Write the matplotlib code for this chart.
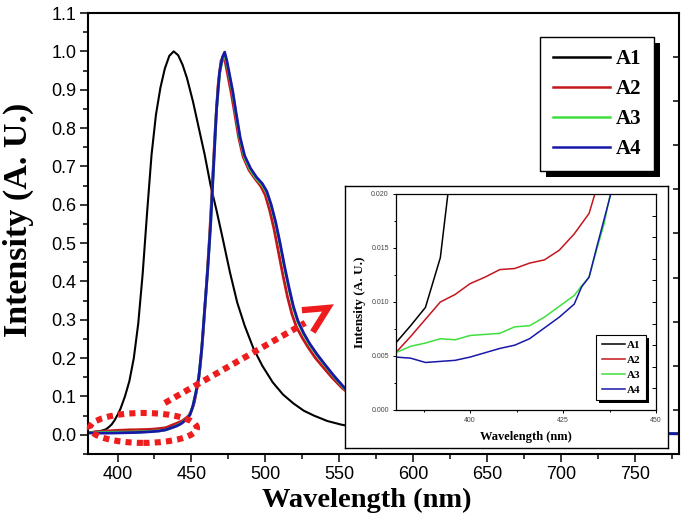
import matplotlib
matplotlib.use('Agg')
import matplotlib.pyplot as plt
from matplotlib.patches import Ellipse, Rectangle
from matplotlib.ticker import MultipleLocator, FormatStrFormatter

plt.rcParams['font.family'] = ['Liberation Sans', 'DejaVu Sans']

labels = ['A1', 'A2', 'A3', 'A4']
colors = ['#000000', '#c4161c', '#3ee03e', '#1818a8']

wl_a1 = [380, 384, 388, 392, 394, 396, 398, 400, 402, 405,
         408, 411, 414, 417, 420, 423, 426, 429, 432, 435,
         438, 441, 444, 447, 451, 455, 459, 463, 467, 471,
         476, 481, 486, 492, 498, 505, 512, 519, 526, 533,
         542, 551, 560, 575, 600, 630, 670, 720, 780]
int_a1 = [0.0062, 0.0078, 0.0095, 0.0141, 0.0199, 0.027, 0.038, 0.052, 0.068, 0.100,
          0.140, 0.200, 0.290, 0.420, 0.580, 0.730, 0.835, 0.905, 0.955, 0.988,
          1.000, 0.990, 0.965, 0.930, 0.870, 0.800, 0.730, 0.650, 0.585, 0.515,
          0.425, 0.345, 0.285, 0.225, 0.180, 0.137, 0.105, 0.082, 0.063, 0.050,
          0.036, 0.027, 0.020, 0.013, 0.008, 0.005, 0.003, 0.002, 0.002]

wl_a2 = [380, 384, 388, 392, 396, 400, 404, 408, 412, 416,
         420, 424, 428, 432, 434, 436, 440, 444, 448, 450,
         452, 454, 456, 458, 460, 462, 464, 466, 468, 470,
         471.5, 473, 475, 477, 479, 482, 485, 489, 493, 497,
         500, 503, 506, 509, 512, 515, 518, 521, 525, 529,
         534, 539, 545, 552, 560, 570, 585, 600, 620, 650,
         690, 730, 780]
int_a2 = [0.0053, 0.0068, 0.0084, 0.0100, 0.0107, 0.0117, 0.0123, 0.0130, 0.0131, 0.0136,
          0.0139, 0.0148, 0.0163, 0.0182, 0.0205, 0.0240, 0.0300, 0.037, 0.049, 0.062,
          0.085, 0.125, 0.18, 0.27, 0.38, 0.50, 0.64, 0.79, 0.91, 0.975,
          0.985, 0.97, 0.93, 0.89, 0.845, 0.775, 0.725, 0.69, 0.668, 0.648,
          0.625, 0.585, 0.535, 0.475, 0.415, 0.36, 0.315, 0.282, 0.253, 0.228,
          0.2, 0.177, 0.15, 0.122, 0.098, 0.074, 0.049, 0.033, 0.021, 0.012,
          0.007, 0.004, 0.003]

wl_a3 = [380, 384, 388, 392, 396, 400, 404, 408, 412, 416,
         420, 424, 428, 430, 432, 434, 436, 438, 440, 443,
         446, 449, 451, 453, 455, 457, 459, 461, 463, 465,
         467, 469, 471, 472.5, 474, 476, 478, 480, 483, 486,
         490, 494, 498, 501, 504, 507, 510, 513, 516, 519,
         522, 526, 530, 535, 540, 546, 553, 560, 570, 585,
         600, 620, 650, 690, 730, 780]
int_a3 = [0.0053, 0.0059, 0.0062, 0.0066, 0.0065, 0.0069, 0.0070, 0.0071, 0.0077, 0.0078,
          0.0086, 0.0096, 0.0106, 0.0115, 0.0123, 0.0148, 0.0172, 0.0205, 0.024, 0.030,
          0.039, 0.053, 0.076, 0.11, 0.15, 0.225, 0.33, 0.43, 0.55, 0.70,
          0.85, 0.94, 0.98, 0.99, 0.97, 0.93, 0.89, 0.84, 0.77, 0.723,
          0.69, 0.668, 0.651, 0.631, 0.596, 0.551, 0.496, 0.436, 0.381, 0.331,
          0.295, 0.262, 0.235, 0.208, 0.183, 0.154, 0.123, 0.099, 0.074, 0.049,
          0.033, 0.021, 0.013, 0.008, 0.005, 0.003]

wl_a4 = [380, 384, 388, 392, 396, 400, 404, 408, 412, 416,
         420, 424, 428, 430, 432, 434, 436, 438, 440, 443,
         446, 449, 451, 453, 455, 457, 459, 461, 463, 465,
         467, 469, 471, 472.5, 474, 476, 478, 480, 483, 486,
         490, 494, 498, 501, 504, 507, 510, 513, 516, 519,
         522, 526, 530, 535, 540, 546, 553, 560, 570, 585,
         600, 620, 650, 690, 730, 780]
int_a4 = [0.0049, 0.0048, 0.0044, 0.0045, 0.0046, 0.0049, 0.0053, 0.0057, 0.0060, 0.0066,
          0.0076, 0.0086, 0.0098, 0.0114, 0.0123, 0.0150, 0.0176, 0.0202, 0.023, 0.029,
          0.038, 0.052, 0.075, 0.11, 0.15, 0.225, 0.33, 0.43, 0.55, 0.70,
          0.85, 0.945, 0.985, 0.998, 0.975, 0.935, 0.895, 0.845, 0.775, 0.728,
          0.695, 0.672, 0.655, 0.635, 0.60, 0.555, 0.50, 0.44, 0.385, 0.335,
          0.298, 0.265, 0.238, 0.21, 0.185, 0.156, 0.125, 0.10, 0.075, 0.05,
          0.034, 0.022, 0.013, 0.008, 0.005, 0.003]

series_wl = [wl_a1, wl_a2, wl_a3, wl_a4]
series_int = [int_a1, int_a2, int_a3, int_a4]

W, H = 685, 526
fig = plt.figure(figsize=(6.85, 5.26), dpi=100)

def fbox(l, t, r, b):
    return [l / W, 1 - b / H, (r - l) / W, (b - t) / H]

serif = 'Liberation Serif'

# ---------------- main axes ----------------
ax = fig.add_axes(fbox(88, 13, 679, 454))
for wl, it, c, lab, lw in zip(series_wl, series_int, colors, labels, [1.5, 2.0, 2.0, 2.0]):
    ax.plot(wl, it, color=c, lw=lw, label=lab)
ax.set_xlim(380, 780)
ax.set_ylim(-0.05, 1.1)
ax.xaxis.set_major_locator(MultipleLocator(50))
ax.xaxis.set_minor_locator(MultipleLocator(25))
ax.yaxis.set_major_locator(MultipleLocator(0.1))
ax.yaxis.set_minor_locator(MultipleLocator(0.05))
ax.yaxis.set_major_formatter(FormatStrFormatter('%.1f'))
ax.tick_params(which='major', direction='out', length=6, width=1.1, labelsize=13, pad=2.5)
ax.tick_params(which='minor', direction='out', length=3.3, width=1.1)
for s in ax.spines.values():
    s.set_linewidth(1.5)
ax.set_xlabel('Wavelength (nm)', fontsize=20.5, fontweight='bold', family=serif)
ax.set_ylabel('Intensity (A. U.)', fontsize=24.5, fontweight='bold', family=serif)
ax.xaxis.set_label_coords(0.472, -0.076)
ax.yaxis.set_label_coords(-0.092, 0.53)

axr = ax.twinx()
axr.set_ylim(0, 1)
axr.yaxis.set_major_locator(MultipleLocator(0.1))
axr.tick_params(axis='y', direction='in', length=4, width=1.1, labelright=False)
for s in axr.spines.values():
    s.set_visible(False)

leg = ax.legend(loc='upper left', bbox_to_anchor=(540 / W, 1 - 37 / H),
                bbox_transform=fig.transFigure, borderaxespad=0,
                prop={'family': serif, 'weight': 'bold', 'size': 15},
                handlelength=2.75, handletextpad=0.3, labelspacing=0.47,
                borderpad=0.6, fancybox=False, framealpha=1, edgecolor='black')
leg.get_frame().set_linewidth(1.0)
for ln in leg.get_lines():
    ln.set_linewidth(1.8)

# red dotted ellipse and arrow (annotation)
red = '#ee1c1c'
ell_center = (417.5, 0.018)
ell_size = (72.5, 0.078)
ax.add_patch(Ellipse(ell_center, ell_size[0], ell_size[1], fill=False, edgecolor=red,
                     lw=4.4, linestyle=(0, (1.0, 0.85)), clip_on=False, zorder=6))
arrow_x = [432.0, 527.0]
arrow_y = [0.083, 0.292]
ax.plot(arrow_x, arrow_y, color=red, lw=4.5, linestyle=(0, (1.0, 0.8)),
        solid_capstyle='butt', dash_capstyle='butt', zorder=6, clip_on=False)
head_x = [524.8, 542.4, 532.2]
head_y = [0.325, 0.331, 0.268]
ax.plot(head_x, head_y, color=red, lw=4.5, solid_joinstyle='miter',
        solid_capstyle='butt', zorder=6, clip_on=False)

# ---------------- inset frame ----------------
frame = fig.add_axes(fbox(345, 186, 668, 448), zorder=2)
frame.set_xticks([])
frame.set_yticks([])
frame.set_facecolor('white')
for s in frame.spines.values():
    s.set_linewidth(1.0)

# ---------------- inset axes ----------------
axi = fig.add_axes(fbox(395.7, 194, 656, 410), zorder=3)
for wl, it, c, lab in zip(series_wl, series_int, colors, labels):
    axi.plot(wl, it, color=c, lw=1.1, label=lab)
axi.set_xlim(380, 450)
axi.set_ylim(0, 0.02)
axi.xaxis.set_major_locator(MultipleLocator(25))
axi.xaxis.set_minor_locator(MultipleLocator(12.5))
axi.yaxis.set_major_locator(MultipleLocator(0.005))
axi.yaxis.set_minor_locator(MultipleLocator(0.0025))
axi.yaxis.set_major_formatter(FormatStrFormatter('%.3f'))
axi.tick_params(which='major', direction='out', length=2.5, width=0.7, labelsize=5,
                labelcolor='#444444', pad=2.5)
axi.tick_params(which='minor', direction='out', length=1.5, width=0.7)
for s in axi.spines.values():
    s.set_linewidth(0.9)
axi.set_xlabel('Wavelength (nm)', fontsize=9, fontweight='bold', family=serif)
axi.set_ylabel('Intensity (A. U.)', fontsize=9.5, fontweight='bold', family=serif)
axi.xaxis.set_label_coords(0.5, -0.095)
axi.yaxis.set_label_coords(-0.115, 0.5)

axir = axi.twinx()
axir.set_ylim(0, 1)
axir.yaxis.set_major_locator(MultipleLocator(0.1))
axir.tick_params(axis='y', direction='in', length=3, width=0.7, labelright=False)
for s in axir.spines.values():
    s.set_visible(False)

legi = axi.legend(loc='upper left', bbox_to_anchor=(596 / W, 1 - 335 / H),
                  bbox_transform=fig.transFigure, borderaxespad=0,
                  prop={'family': serif, 'weight': 'bold', 'size': 8},
                  handlelength=2.1, handletextpad=0.2, labelspacing=0.45,
                  borderpad=0.5, fancybox=False, framealpha=1, edgecolor='black')
legi.get_frame().set_linewidth(0.8)
for ln in legi.get_lines():
    ln.set_linewidth(1.1)

# ---------------- legend shadows ----------------
fig.canvas.draw()

def add_shadow(a, lg, off):
    bb = lg.get_frame().get_window_extent()
    inv = a.transAxes.inverted()
    x0, y0 = inv.transform((bb.x0 + off, bb.y0 - off))
    x1, y1 = inv.transform((bb.x1 + off, bb.y1 - off))
    a.add_patch(Rectangle((x0, y0), x1 - x0, y1 - y0, transform=a.transAxes,
                          facecolor='black', edgecolor='none',
                          zorder=lg.get_zorder() - 0.1, clip_on=False))

add_shadow(ax, leg, 5.5)
add_shadow(axi, legi, 3)

fig.savefig('out.png', dpi=100)
